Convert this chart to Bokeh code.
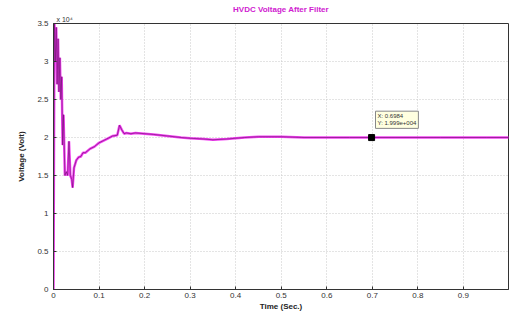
from bokeh.plotting import figure
from bokeh.models import Range1d, Label, FixedTicker, Title
from bokeh.embed import file_html
from bokeh.resources import INLINE

# Time (s) and DC voltage (x 10^4 V)
t = [0, 0.002, 0.004, 0.006, 0.008, 0.010, 0.012, 0.014, 0.016, 0.018, 0.020,
     0.022, 0.025, 0.028, 0.031, 0.034, 0.037, 0.040, 0.042, 0.045, 0.05, 0.055,
     0.06, 0.065, 0.07, 0.08, 0.09, 0.1, 0.11, 0.12, 0.13, 0.14, 0.145, 0.15,
     0.155, 0.16, 0.17, 0.18, 0.2, 0.22, 0.25, 0.28, 0.3, 0.33, 0.35, 0.38, 0.4,
     0.42, 0.45, 0.5, 0.55, 0.6, 0.65, 0.7, 0.75, 0.8, 0.85, 0.9, 0.95, 1.0]
v = [0, 3.5, 3.0, 3.45, 2.7, 3.3, 2.6, 3.05, 2.5, 2.8, 1.9, 2.3, 1.5, 1.55,
     1.5, 1.95, 1.5, 1.45, 1.34, 1.6, 1.7, 1.74, 1.75, 1.8, 1.8, 1.85, 1.88,
     1.93, 1.96, 1.99, 2.02, 2.03, 2.16, 2.1, 2.05, 2.06, 2.05, 2.06, 2.05, 2.04,
     2.02, 2.0, 1.99, 1.98, 1.97, 1.98, 1.99, 2.0, 2.01, 2.01, 2.0, 2.0, 2.0,
     2.0, 2.0, 2.0, 2.0, 2.0, 2.0, 2.0]

x_ticks = [0, 0.1, 0.2, 0.3, 0.4, 0.5, 0.6, 0.7, 0.8, 0.9]
y_ticks = [0, 0.5, 1, 1.5, 2, 2.5, 3, 3.5]
tip_x = [0.6984]
tip_y = [1.999]

FONT = "Liberation Sans"

p = figure(width=509, height=318, output_backend="svg", toolbar_location=None,
           x_range=Range1d(0, 0.999), y_range=Range1d(0, 3.5),
           min_border_left=53, min_border_right=1, min_border_top=23,
           min_border_bottom=29)

p.title.text = "HVDC Voltage After Filter"
p.title.align = "center"
p.title.text_color = "#d020d0"
p.title.text_font = FONT
p.title.text_font_size = "8px"
p.title.standoff = 0
p.title.offset = 0

exp_title = Title(text="x 10⁴", align="left", offset=3, standoff=1,
                  text_font=FONT, text_font_size="7px",
                  text_font_style="normal", text_color="#333333")
p.add_layout(exp_title, "above")

p.outline_line_color = "#333333"
p.background_fill_color = "white"
p.border_fill_color = "white"

for ax in (p.xaxis[0], p.yaxis[0]):
    ax.major_tick_in = 3
    ax.major_tick_out = 0
    ax.minor_tick_in = 0
    ax.minor_tick_out = 0
    ax.axis_line_color = "#333333"
    ax.major_tick_line_color = "#333333"
    ax.major_label_text_font = FONT
    ax.major_label_text_font_size = "8px"
    ax.major_label_text_color = "#333333"
    ax.axis_label_text_font = FONT
    ax.axis_label_text_font_size = "8px"
    ax.axis_label_text_font_style = "bold"
    ax.axis_label_text_color = "#222222"
    ax.axis_label_standoff = 8
    ax.major_label_standoff = 5

p.xaxis[0].ticker = FixedTicker(ticks=x_ticks)
p.yaxis[0].ticker = FixedTicker(ticks=y_ticks)
p.xaxis[0].axis_label = "Time (Sec.)"
p.yaxis[0].axis_label = "Voltage (Volt)"
p.xaxis[0].axis_label_standoff = 1
p.xaxis[0].major_label_standoff = 3

p.grid.grid_line_color = "#c8c8c8"
p.grid.grid_line_dash = "1 2"
p.grid.grid_line_width = 1

p.line(t, v, line_color="#f020f0", line_width=2.5, line_alpha=0.85)
p.line(t, v, line_color="#701070", line_width=0.8, line_alpha=0.8)

p.scatter(tip_x, tip_y, marker="square", size=6, fill_color="black",
          line_color="black")

p.add_layout(Label(x=0.707, y=2.12, text="X: 0.6984\nY: 1.999e+004",
                   text_font=FONT, text_font_size="6px", text_color="#333333",
                   background_fill_color="#ffffe0", border_line_color="#888888",
                   padding=2))

open("out.html", "w").write(file_html(p, INLINE))
